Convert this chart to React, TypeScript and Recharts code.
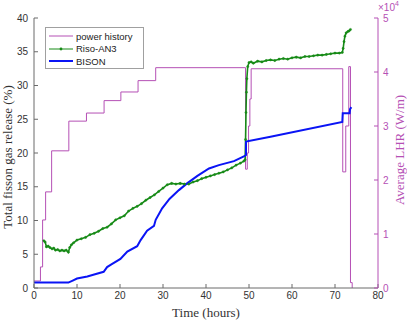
import { ComposedChart, Line, XAxis, YAxis } from "recharts";

// power history (hours, W/m)
const powerTime = [0, 1.5, 2.0, 2.7, 4.1, 8.1, 12.2, 16.3, 20.2, 24.2, 28.3, 49.2, 49.6, 49.9, 50.2, 50.5, 71.8, 72.5, 73.2, 73.6, 74.0];
const powerLhr = [1300, 3900, 12600, 17800, 25400, 30900, 32400, 34700, 36300, 38400, 40800, 22000, 25000, 30000, 35000, 40600, 21500, 30000, 41000, 1000, 0];

// Riso-AN3 measured release (%)
const risoTime = [
  2.3, 2.6, 2.9, 3.3, 3.7, 4.2, 4.6, 5.0, 5.5, 6.0, 6.5, 7.0, 7.5, 8.0, 8.3, 8.7, 9.2, 10, 11, 12, 13, 14, 15, 16, 17, 18, 19, 20,
  21, 22, 23, 24, 25, 26, 27, 28, 29, 30, 31, 32, 33, 34, 35, 36, 37, 38, 39, 40, 41, 42, 43, 44, 45, 46, 47, 48, 48.8, 49.1,
  49.2, 49.3, 49.4, 49.5, 49.7, 50, 50.5, 51, 52, 53, 54, 55, 56, 57, 58, 59, 60, 61, 62, 63, 64, 65, 66, 67, 68, 69, 70, 71,
  71.7, 71.9, 72.1, 72.3, 72.6, 73, 73.3, 73.6,
];
const risoFgr = [
  7.0, 6.8, 6.1, 6.2, 6.0, 5.8, 5.9, 5.6, 5.7, 5.5, 5.6, 5.5, 5.6, 5.3, 6.0, 6.4, 6.7, 7.1, 7.3, 7.5, 7.9, 8.1, 8.4, 8.8, 9.0, 9.5, 10.1, 10.4,
  10.7, 11.4, 11.8, 12.1, 12.5, 13.0, 13.4, 13.8, 14.3, 14.8, 15.3, 15.5, 15.4, 15.5, 15.4, 15.4, 15.7, 15.9, 16.2, 16.4, 16.6, 16.8, 17.0, 17.2, 17.5, 17.8, 18.2, 18.5, 18.8, 19.0,
  22.0, 26.0, 29.0, 31.0, 32.8, 33.4, 33.5, 33.3, 33.6, 33.5, 33.7, 33.8, 33.7, 33.9, 34.0, 33.9, 34.1, 34.2, 34.1, 34.3, 34.3, 34.4, 34.5, 34.5, 34.6, 34.7, 34.8, 34.8,
  34.9, 35.5, 36.5, 37.3, 37.8, 38.0, 38.1, 38.3,
];

// BISON calculated release (%)
const bisonTime = [0, 8, 9, 10, 12.4, 14, 16.2, 17, 18, 20.1, 21.7, 24, 24.8, 26.3, 27.9, 28.3, 29.8, 31.5, 33.7, 35.6, 38, 40.7, 43, 46.5, 48.8, 49.3, 49.3, 55, 71.7, 71.8, 73.4, 73.5, 73.8];
const bisonFgr = [0.8, 0.8, 1.1, 1.4, 1.7, 2.0, 2.4, 3.1, 3.5, 4.3, 5.4, 6.2, 7.1, 8.5, 9.2, 10.1, 11.8, 13.2, 14.5, 15.5, 16.6, 17.7, 18.2, 18.8, 19.5, 19.7, 21.7, 22.4, 24.6, 25.9, 25.9, 26.5, 26.8];

const xTicks = [0, 10, 20, 30, 40, 50, 60, 70, 80];
const fgrTicks = [0, 5, 10, 15, 20, 25, 30, 35, 40];
const lhrTicks = [0, 10000, 20000, 30000, 40000, 50000];

const powerData = powerTime.map((t, i) => ({ t, lhr: powerLhr[i] }));
const risoData = risoTime.map((t, i) => ({ t, fgr: risoFgr[i] }));
const bisonData = bisonTime.map((t, i) => ({ t, fgr: bisonFgr[i] }));

const PURPLE = "#b550b5";
const GREEN = "#178a17";
const BLUE = "#0a14f5";
const AXIS = "#6a6a6a";
const sans = "'Liberation Sans', Arial, sans-serif";
const serif = "'Liberation Serif', 'Times New Roman', serif";

export default function App() {
  return (
    <div style={{ position: "absolute", left: 0, top: 0, width: 407, height: 320, background: "#fff" }}>
      <ComposedChart width={407} height={320} margin={{ top: 18, right: 0, bottom: 0, left: 0 }}>
        <XAxis
          type="number"
          dataKey="t"
          domain={[0, 80]}
          ticks={xTicks}
          height={32}
          stroke={AXIS}
          tickSize={-4}
          tickMargin={8}
          tick={{ fill: "#333", fontSize: 10, fontFamily: sans }}
        />
        <YAxis
          yAxisId="left"
          domain={[0, 40]}
          ticks={fgrTicks}
          width={34}
          stroke={AXIS}
          tickSize={-4}
          tickMargin={10}
          tick={{ fill: "#333", fontSize: 10, fontFamily: sans }}
        />
        <YAxis
          yAxisId="right"
          orientation="right"
          domain={[0, 50000]}
          ticks={lhrTicks}
          width={29}
          stroke={PURPLE}
          tickSize={-4}
          tickMargin={9}
          tickFormatter={(v) => `${v / 10000}`}
          tick={{ fill: PURPLE, fontSize: 10, fontFamily: sans }}
        />
        <Line
          yAxisId="right"
          data={powerData}
          dataKey="lhr"
          type="stepAfter"
          stroke={PURPLE}
          strokeWidth={1}
          dot={false}
          isAnimationActive={false}
        />
        <Line
          yAxisId="left"
          data={risoData}
          dataKey="fgr"
          type="linear"
          stroke={GREEN}
          strokeWidth={1.6}
          dot={{ r: 1.1, fill: GREEN, stroke: GREEN, strokeWidth: 0.5 }}
          isAnimationActive={false}
        />
        <Line
          yAxisId="left"
          data={bisonData}
          dataKey="fgr"
          type="linear"
          stroke={BLUE}
          strokeWidth={2}
          dot={false}
          isAnimationActive={false}
        />
      </ComposedChart>

      {/* axis titles */}
      <div
        style={{
          position: "absolute", left: 8, top: 157, transform: "translate(-50%, -50%) rotate(-90deg)",
          whiteSpace: "nowrap", fontFamily: serif, fontSize: 13, color: "#333",
        }}
      >
        Total fisson gas release (%)
      </div>
      <div
        style={{
          position: "absolute", left: 206, top: 313, transform: "translate(-50%, -50%)",
          whiteSpace: "nowrap", fontFamily: serif, fontSize: 13, color: "#333",
        }}
      >
        Time (hours)
      </div>
      <div
        style={{
          position: "absolute", left: 400, top: 150, transform: "translate(-50%, -50%) rotate(-90deg)",
          whiteSpace: "nowrap", fontFamily: serif, fontSize: 13, color: PURPLE,
        }}
      >
        Average LHR (W/m)
      </div>
      <div style={{ position: "absolute", left: 378, top: 2, fontFamily: sans, fontSize: 10, color: PURPLE, whiteSpace: "nowrap" }}>
        ×10<sup style={{ fontSize: 7, verticalAlign: "top", position: "relative", top: -2 }}>4</sup>
      </div>

      {/* legend */}
      <div
        style={{
          position: "absolute", left: 45, top: 27, width: 97, height: 40, border: "1px solid #a0a0a0",
          background: "#fff", fontFamily: sans, fontSize: 9.5, color: "#222",
        }}
      >
        {[
          { name: "power history", color: PURPLE, w: 1, dot: false },
          { name: "Riso-AN3", color: GREEN, w: 1, dot: true },
          { name: "BISON", color: BLUE, w: 2, dot: false },
        ].map((e, i) => (
          <div key={e.name} style={{ position: "absolute", left: 3, top: 2 + i * 12.5, height: 12, display: "flex", alignItems: "center" }}>
            <svg width={25} height={12} style={{ marginRight: 2 }}>
              <line x1={0} x2={24} y1={6} y2={6} stroke={e.color} strokeWidth={e.w} />
              {e.dot && <circle cx={12} cy={6} r={1.4} fill={e.color} />}
            </svg>
            <span>{e.name}</span>
          </div>
        ))}
      </div>
    </div>
  );
}
